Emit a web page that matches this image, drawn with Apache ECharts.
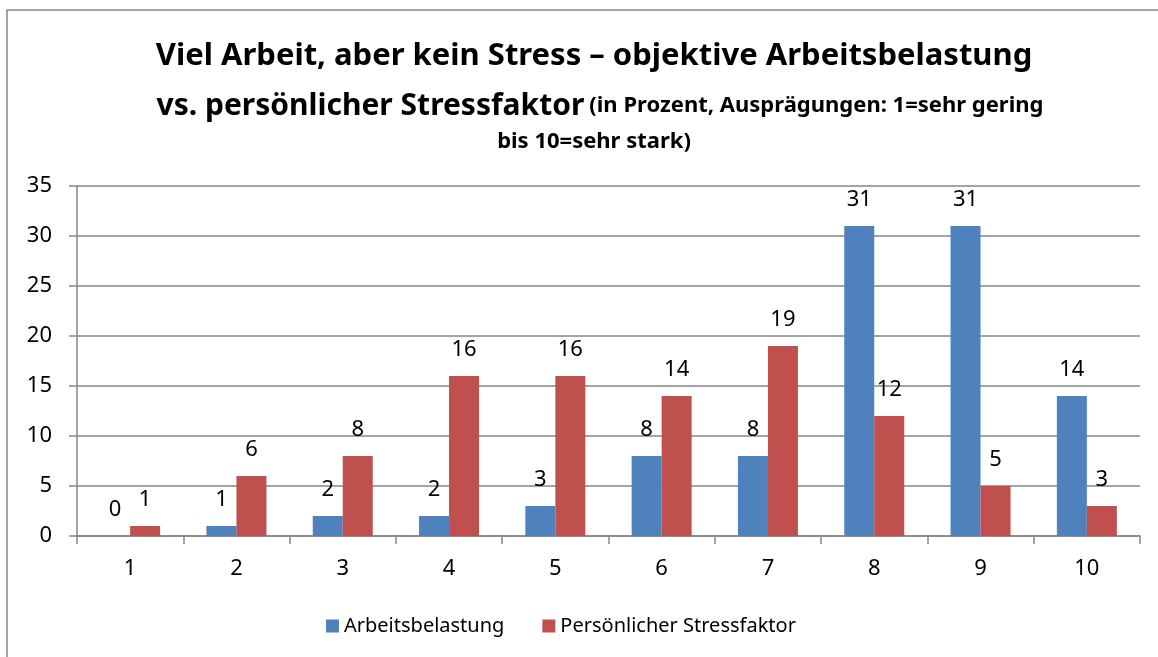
<!DOCTYPE html>
<html lang="de">
<head>
<meta charset="UTF-8">
<title>Viel Arbeit, aber kein Stress</title>
<script src="https://cdn.jsdelivr.net/npm/echarts@6/dist/echarts.min.js"></script>
<style>
  html, body { margin: 0; padding: 0; background: #fff; }
  #container { width: 1158px; height: 657px; }
</style>
</head>
<body>
<div id="container"></div>
<script>
// Daten
var categories = ['1', '2', '3', '4', '5', '6', '7', '8', '9', '10'];
var arbeitsbelastung = [0, 1, 2, 2, 3, 8, 8, 31, 31, 14];
var stressfaktor = [1, 6, 8, 16, 16, 14, 19, 12, 5, 3];
var seriesNames = ['Arbeitsbelastung', 'Persönlicher Stressfaktor'];

var font = 'Noto Sans';
var chart = echarts.init(document.getElementById('container'));

var labelStyle = {
    show: true,
    position: 'top',
    distance: 15,
    color: '#000',
    fontFamily: font,
    fontSize: 22
};

var option = {
    backgroundColor: '#fff',
    color: ['#4F81BD', '#C0504D'],
    animation: false,
    graphic: [{
        type: 'rect',
        shape: { x: 7, y: 10, width: 1200, height: 700 },
        style: { fill: 'none', stroke: '#868686', lineWidth: 1.5 },
        silent: true
    }],
    title: [{
        text: 'Viel Arbeit, aber kein Stress – objektive Arbeitsbelastung',
        left: 589,
        top: 36,
        textAlign: 'center',
        textStyle: { fontFamily: font, fontWeight: 'bold', fontSize: 31, color: '#000' }
    }, {
        text: '{a|vs. persönlicher Stressfaktor} {b|(in Prozent, Ausprägungen: 1=sehr gering}',
        left: 595,
        top: 86,
        textAlign: 'center',
        textStyle: {
            rich: {
                a: { fontFamily: font, fontWeight: 'bold', fontSize: 30, color: '#000' },
                b: { fontFamily: font, fontWeight: 'bold', fontSize: 22, color: '#000' }
            }
        }
    }, {
        text: 'bis 10=sehr stark)',
        left: 589,
        top: 126,
        textAlign: 'center',
        textStyle: { fontFamily: font, fontWeight: 'bold', fontSize: 22, color: '#000' }
    }],
    legend: {
        bottom: 16,
        left: 321,
        itemWidth: 13,
        itemHeight: 13,
        itemGap: 38,
        icon: 'rect',
        textStyle: { fontFamily: font, fontSize: 20, color: '#000' },
        data: seriesNames
    },
    grid: {
        left: 77,
        right: 18,
        top: 186,
        bottom: 121,
        containLabel: false
    },
    xAxis: {
        type: 'category',
        data: categories,
        axisLine: { lineStyle: { color: '#868686', width: 1.5 } },
        axisTick: { show: true, length: 8, lineStyle: { color: '#868686', width: 1.5 } },
        axisLabel: { color: '#000', fontFamily: font, fontSize: 22, margin: 22 }
    },
    yAxis: {
        type: 'value',
        min: 0,
        max: 35,
        interval: 5,
        axisLine: { show: true, lineStyle: { color: '#868686', width: 1.5 } },
        axisTick: { show: true, length: 8, lineStyle: { color: '#868686', width: 1.5 } },
        axisLabel: { color: '#000', fontFamily: font, fontSize: 22, margin: 25 },
        splitLine: { show: true, lineStyle: { color: '#868686', width: 1.5 } }
    },
    series: [{
        name: seriesNames[0],
        type: 'bar',
        data: arbeitsbelastung,
        barWidth: 30,
        barGap: '0%',
        label: labelStyle
    }, {
        name: seriesNames[1],
        type: 'bar',
        data: stressfaktor,
        barWidth: 30,
        barGap: '0%',
        label: labelStyle
    }]
};

chart.setOption(option);
</script>
</body>
</html>
